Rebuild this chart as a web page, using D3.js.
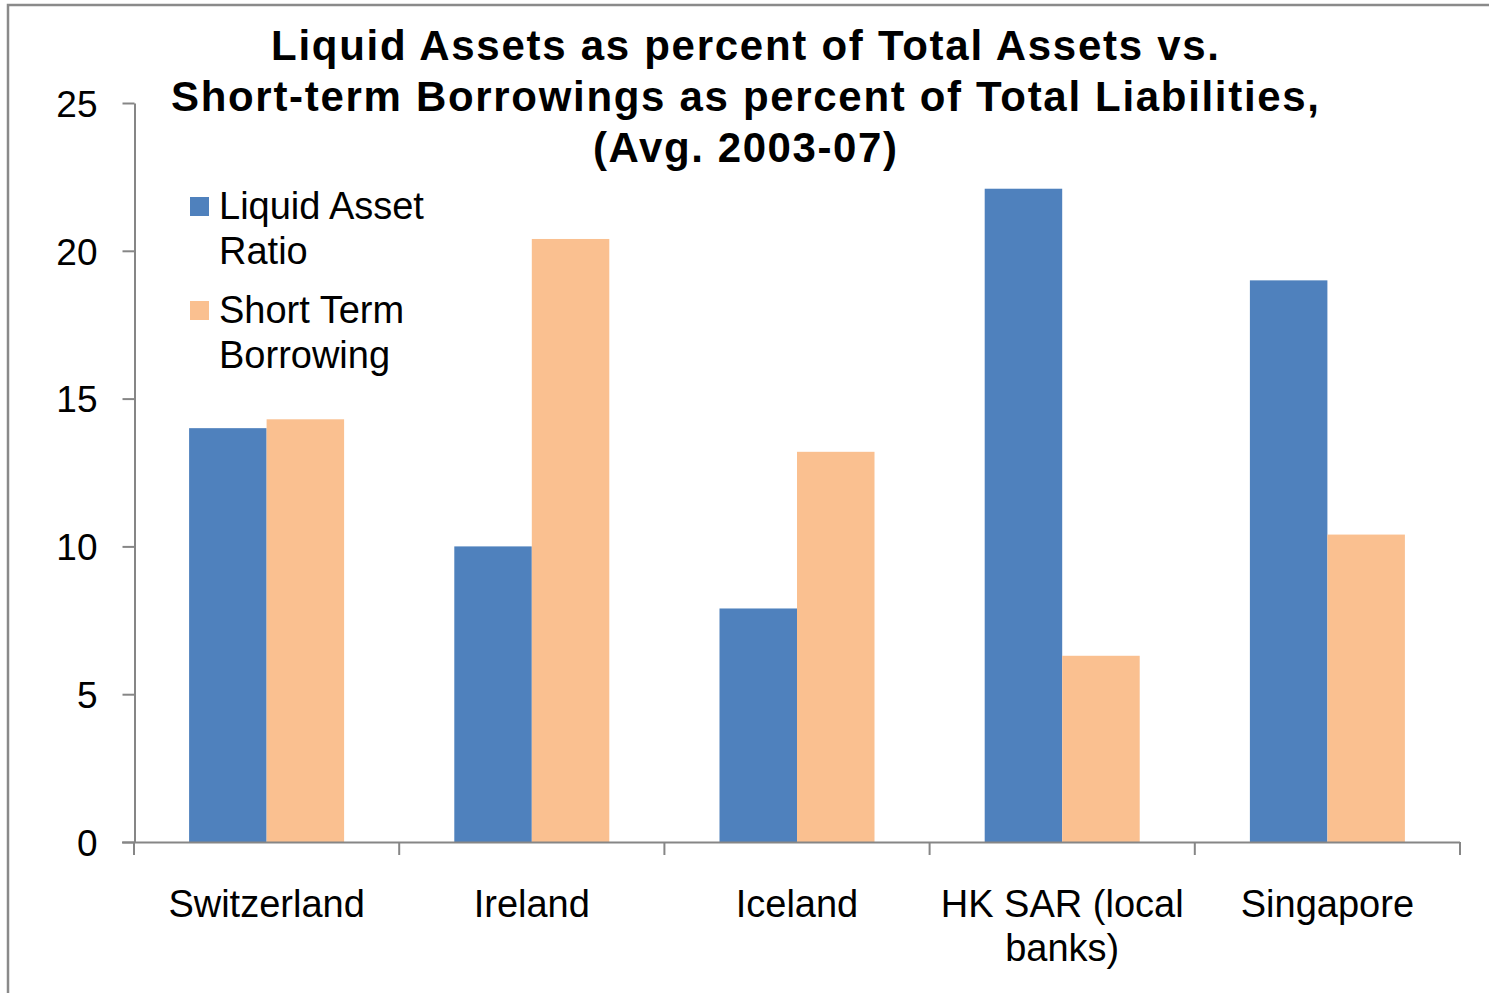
<!DOCTYPE html>
<html>
<head>
<meta charset="UTF-8">
<title>Liquid Assets vs Short-term Borrowings</title>
<script src="https://cdn.jsdelivr.net/npm/d3@7"></script>
<style>
  body { margin: 0; background: #fff; }
  svg { display: block; font-family: "Liberation Sans", Arial, sans-serif; }
  .axis path, .axis line { stroke: #868686; stroke-width: 2px; }
  .axis text { fill: #000; }
</style>
</head>
<body>
<script>
// data
var categories = ["Switzerland", "Ireland", "Iceland", "HK SAR (local banks)", "Singapore"];
var seriesNames = ["Liquid Asset Ratio", "Short Term Borrowing"];
var liquidAssetRatio = [14.0, 10.0, 7.9, 22.1, 19.0];
var shortTermBorrowing = [14.3, 20.4, 13.2, 6.3, 10.4];
var yTicks = [0, 5, 10, 15, 20, 25];
var titleLines = ["Liquid Assets as percent of Total Assets vs.",
                  "Short-term Borrowings as percent of Total Liabilities,",
                  "(Avg. 2003-07)"];

var w = 1489, h = 993;
var colors = ["#4F81BD", "#FAC090"];

var rows = categories.map(function(c, i) {
  return { cat: c, values: [liquidAssetRatio[i], shortTermBorrowing[i]] };
});

var svg = d3.select("body").append("svg")
  .attr("width", w)
  .attr("height", h);

// frame (only top and left edges show in the picture)
svg.append("path")
  .attr("d", "M8,993V5H1489")
  .attr("fill", "none")
  .attr("stroke", "#8a8a8a")
  .attr("stroke-width", 2.5);

// scales
var x0 = d3.scaleBand()
  .domain(categories)
  .range([134, 1460])
  .paddingInner(0.4155)
  .paddingOuter(0.4155 / 2);

var x1 = d3.scaleBand()
  .domain([0, 1])
  .range([0, x0.bandwidth()]);

var y = d3.scaleLinear()
  .domain([0, 25])
  .range([842, 103]);

// bars
var groups = svg.append("g")
  .selectAll("g")
  .data(rows)
  .enter()
  .append("g")
  .attr("transform", function(d) { return "translate(" + x0(d.cat) + ",0)"; });

groups.selectAll("rect")
  .data(function(d) { return d.values; })
  .enter()
  .append("rect")
  .attr("x", function(d, i) { return x1(i); })
  .attr("y", function(d) { return y(d); })
  .attr("width", x1.bandwidth())
  .attr("height", function(d) { return y(0) - y(d); })
  .attr("fill", function(d, i) { return colors[i]; });

// y axis
var yAxis = d3.axisLeft(y)
  .tickValues(yTicks)
  .tickSizeInner(12)
  .tickSizeOuter(0)
  .tickPadding(25)
  .tickFormat(d3.format("d"));

svg.append("g")
  .attr("class", "axis yaxis")
  .attr("transform", "translate(134.5,0)")
  .call(yAxis)
  .selectAll("text")
  .attr("font-size", "37px")
  .attr("dy", "0.36em");

// x axis: line with boundary ticks
var step = x0.step();
var bounds = d3.range(categories.length + 1).map(function(i) { return 134 + i * step; });

var xg = svg.append("g").attr("class", "axis xaxis");
xg.append("line")
  .attr("x1", 122).attr("x2", 1460)
  .attr("y1", y(0) + 0.5).attr("y2", y(0) + 0.5);
xg.selectAll("line.tick")
  .data(bounds)
  .enter()
  .append("line")
  .attr("class", "tick")
  .attr("x1", function(d) { return d; })
  .attr("x2", function(d) { return d; })
  .attr("y1", y(0))
  .attr("y2", y(0) + 13);

// category labels, wrapped to the band
var labels = xg.selectAll("text")
  .data(categories)
  .enter()
  .append("text")
  .attr("x", function(d) { return x0(d) + x0.bandwidth() / 2; })
  .attr("y", 917)
  .attr("text-anchor", "middle")
  .attr("font-size", "38px")
  .text(function(d) { return d; });

labels.each(function(d) {
  var t = d3.select(this);
  var words = d.split(" ");
  var cx = t.attr("x");
  t.text(null);
  var line = [];
  var tspan = t.append("tspan").attr("x", cx).attr("dy", 0);
  words.forEach(function(word) {
    line.push(word);
    tspan.text(line.join(" "));
    if (tspan.node().getComputedTextLength() > step - 10 && line.length > 1) {
      line.pop();
      tspan.text(line.join(" "));
      line = [word];
      tspan = t.append("tspan").attr("x", cx).attr("dy", 44).text(word);
    }
  });
});

// title
svg.append("g")
  .selectAll("text")
  .data(titleLines)
  .enter()
  .append("text")
  .attr("x", 745)
  .attr("y", function(d, i) { return 60 + i * 51; })
  .attr("text-anchor", "middle")
  .attr("font-size", "42px")
  .attr("font-weight", "bold")
  .attr("textLength", function(d, i) { return [948, 1148, 304][i]; })
  .attr("lengthAdjust", "spacing")
  .text(function(d) { return d; });

// legend
var legendLines = [["Liquid Asset", "Ratio"], ["Short Term", "Borrowing"]];
var legend = svg.append("g")
  .selectAll("g")
  .data(seriesNames)
  .enter()
  .append("g")
  .attr("transform", function(d, i) { return "translate(190," + (197 + i * 104) + ")"; });

legend.append("rect")
  .attr("width", 19)
  .attr("height", 19)
  .attr("fill", function(d, i) { return colors[i]; });

legend.append("text")
  .attr("x", 29)
  .attr("y", 22)
  .attr("font-size", "38px")
  .selectAll("tspan")
  .data(function(d, i) { return legendLines[i]; })
  .enter()
  .append("tspan")
  .attr("x", 29)
  .attr("dy", function(d, i) { return i === 0 ? 0 : 45; })
  .text(function(d) { return d; });
</script>
</body>
</html>
